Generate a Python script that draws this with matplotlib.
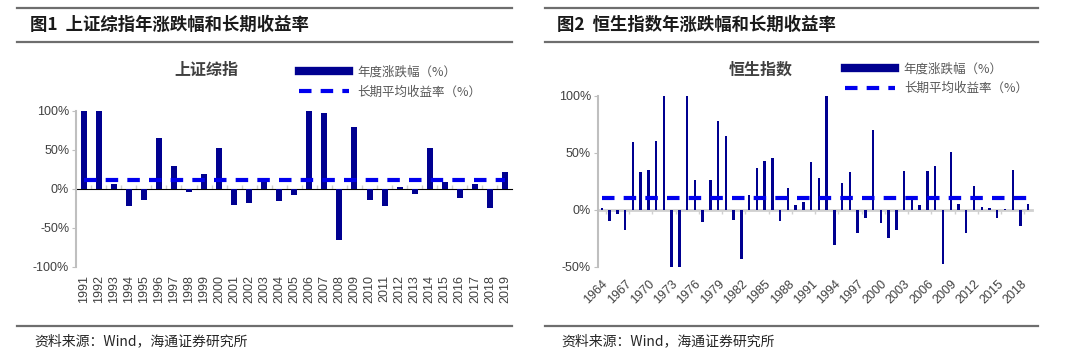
#!/usr/bin/env python3

# 上证综指 / 恒生指数 年涨跌幅和长期平均收益率

import matplotlib
matplotlib.use('Agg')
import matplotlib.pyplot as plt
from matplotlib.lines import Line2D

plt.rcParams['font.family'] = ['Noto Sans CJK SC', 'DejaVu Sans']

# 上证综指 1991-2019
sse_years = list(range(1991, 2020))
sse_ret = [100, 100, 6, -22, -14, 65, 30, -4, 19, 52, -21, -17.5, 10, -15, -8,
           100, 97, -65, 80, -14, -22, 3, -7, 53, 9, -12, 7, -25, 22]
sse_avg = 12

# 恒生指数 1964-2019
hsi_years = list(range(1964, 2020))
hsi_ret = [1.5, -10, -4, -18, 59, 33, 35, 60, 100, -50,
           -50, 100, 26, -11, 26, 78, 65, -9, -43, 13,
           37, 43, 45, -10, 19, 4.5, 6.5, 42, 28, 100,
           -31, 23, 33, -20, -7, 70, -12, -25, -18, 34,
           9, 4, 34, 38, -48, 51, 5, -20, 21, 2,
           1.5, -7, 0.5, 35, -14, 5]
hsi_avg = 10

bar_color = '#000090'
avg_color = '#0000EE'
grey = '#BFBFBF'
txt = '#404040'
num_font = ['Liberation Sans', 'DejaVu Sans']

fig = plt.figure(figsize=(10.8, 3.64), dpi=100)


def panel(rect, years, vals, avg, ylim, yticks, xstep, rot, width, title, tx):
    ax = fig.add_axes(rect)
    x = list(range(len(years)))
    ax.bar(x, vals, width=width, color=bar_color, zorder=2)
    ax.plot([x[0], x[-1]], [avg, avg], color=avg_color, lw=3,
            dashes=(3, 2.2), zorder=3)
    ax.set_xlim(-0.5, len(years) - 0.5)
    ax.set_ylim(*ylim)
    ax.set_yticks(yticks)
    ax.set_yticklabels([f'{t}%' for t in yticks], family=num_font,
                       fontsize=9, color=txt)
    ax.tick_params(axis='y', length=3, color=grey, pad=2)
    for s in ['top', 'right', 'bottom']:
        ax.spines[s].set_visible(False)
    ax.spines['left'].set_color(grey)
    ax.spines['left'].set_linewidth(1.5)

    xt = x[::xstep]
    ax.set_xticks(xt)
    ax.set_xticklabels([str(years[i]) for i in xt], rotation=rot,
                       family=num_font, fontsize=9, color=txt,
                       ha='center' if rot == 90 else 'right',
                       rotation_mode='default' if rot == 90 else 'anchor')
    ax.tick_params(axis='x', length=0, pad=6 if rot == 90 else 8)

    # zero line with small ticks between bars
    loc = (0 - ylim[0]) / (ylim[1] - ylim[0])
    sec = ax.secondary_xaxis(loc)
    sec.spines['bottom'].set_color('#D0D0D0')
    sec.spines['bottom'].set_linewidth(2)
    sec.set_xticks([i + 0.5 for i in x[:-1]][::xstep if rot != 90 else 1])
    sec.set_xticklabels([])
    sec.tick_params(length=3, color='#D0D0D0', width=1)
    sec.set_zorder(1)

    fig.text(tx, 0.808, title, fontsize=11.5, fontweight='bold', color='#404040',
             ha='center', va='center')
    return ax


ax1 = panel([0.0705, 0.2665, 0.404, 0.4286], sse_years, sse_ret, sse_avg,
            (-100, 100), [100, 50, 0, -50, -100], 1, 90, 0.4, '上证综指', 0.191)
ax2 = panel([0.5537, 0.2673, 0.4019, 0.4698], hsi_years, hsi_ret, hsi_avg,
            (-50, 100), [100, 50, 0, -50], 3, 45, 0.3, '恒生指数', 0.704)

# legends
for ax, anchor in [(ax1, (0.266, 0.85)), (ax2, (0.772, 0.86))]:
    handles = [Line2D([], [], color=bar_color, lw=6),
               Line2D([], [], color=avg_color, lw=3, dashes=(3, 2.2))]
    fig.legend(handles, ['年度涨跌幅（%）', '长期平均收益率（%）'],
               loc='upper left', bbox_to_anchor=anchor, frameon=False,
               fontsize=9, handlelength=4.0, handletextpad=0.7,
               labelspacing=0.55, labelcolor='#595959')

# header / footer rules and titles
for x0, x1, head, tx in [(0.016, 0.474, '图1  上证综指年涨跌幅和长期收益率', 0.028),
                         (0.505, 0.961, '图2  恒生指数年涨跌幅和长期收益率', 0.516)]:
    for y in [1 - 8 / 364, 1 - 42 / 364, 1 - 326 / 364]:
        fig.add_artist(Line2D([x0, x1], [y, y], color='#6E6E6E', lw=1.6))
    fig.text(tx, 1 - 25 / 364, head, fontsize=12.5, fontweight='bold',
             color='#1A1A1A', va='center')
    fig.text(tx + 0.004, 1 - 341 / 364, '资料来源：Wind，海通证券研究所',
             fontsize=10, color='#262626', va='center')

fig.savefig('out.png', dpi=100)
